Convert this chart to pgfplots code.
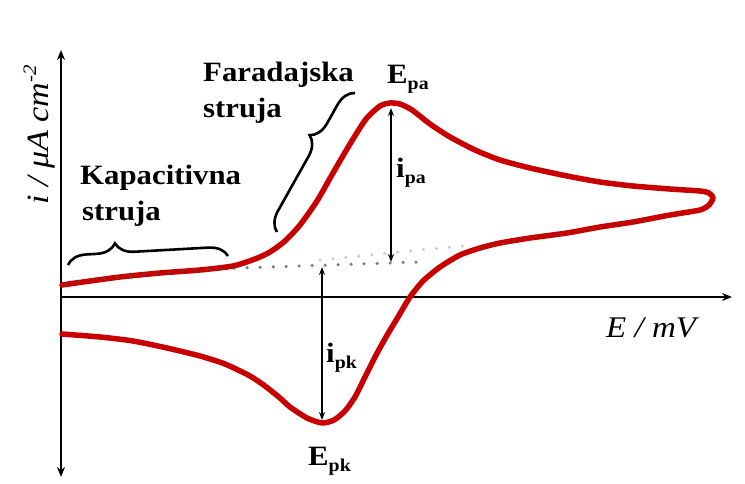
\documentclass[border=0pt]{standalone}
\usepackage{fontspec}
\setmainfont{Liberation Serif}
\newfontfamily\lab[FakeStretch=1.1]{Liberation Serif}
\usepackage{pgfplots}
\pgfplotsset{compat=1.18}
\usetikzlibrary{decorations.pathreplacing,arrows.meta}
\definecolor{cvred}{RGB}{200,0,0}
\definecolor{dotdark}{RGB}{80,80,80}
\definecolor{dotlight}{RGB}{205,205,205}
\newcommand{\lbl}[1]{{\lab\bfseries\fontsize{28}{28}\selectfont #1}}
\newcommand{\sub}[1]{\raisebox{-6pt}{\lab\bfseries\fontsize{18}{18}\selectfont #1}}

% curve in picture units (1 unit = 1 pt)
\pgfplotstableread{
x y
62 198
83 201
120 206
160 210
200 213
233 217
255 224
270 231
285 242
300 258
317 282
333 310
350 339
366 364
380 377
390 380
400 379
412 373
430 359
450 346
475 333
500 323
530 315
567 307
600 301
633 297
670 294
700 292
709 290
713 285
709 278
700 273
670 268
633 261
600 256
567 250
530 245
500 240
480 235
460 228
440 216
423 202
410 186
398 166
386 146
375 126
365 106
355 86
345 72
334 63
322 60
307 65
290 76
280 85
265 97
250 107
225 119
200 127
167 135
133 142
100 146
62 149
}\cvcurve

\begin{document}
\begin{tikzpicture}
\begin{axis}[
    width=745pt, height=483pt, scale only axis,
    xmin=0, xmax=745, ymin=0, ymax=483,
    hide axis, clip=false,
]
% axes
\addplot[black, line width=2.6pt, {Stealth[length=10pt,width=8pt]}-{Stealth[length=10pt,width=8pt]}]
    coordinates {(61,6) (61,433)};
\addplot[black, line width=2.6pt, -{Stealth[length=10pt,width=8pt]}]
    coordinates {(61,186) (732,186)};

% voltammogram
\addplot[cvred, line width=5.5pt, smooth, tension=0.4, line join=round, line cap=round]
    table {\cvcurve};

% base lines
\addplot[dotlight, line width=3.5pt, line cap=round, dash pattern=on 0pt off 13pt]
    coordinates {(320,223) (400,231) (473,238)};
\addplot[dotdark, opacity=0.75, line width=3.5pt, line cap=round, dash pattern=on 0pt off 13pt, smooth]
    coordinates {(66,199) (100,204) (150,209) (200,213) (240,215) (300,217) (360,219) (420,221)};
\addplot[dotdark, opacity=0.6, line width=3pt, line cap=round, dash pattern=on 0pt off 11pt, smooth]
    coordinates {(482,235) (530,245) (567,250) (600,256) (650,263)};

% peak arrows
\addplot[black, line width=1.9pt, {Stealth[length=8pt,width=6pt]}-{Stealth[length=8pt,width=6pt]}]
    coordinates {(391,375) (391,221)};
\addplot[black, line width=1.9pt, {Stealth[length=8pt,width=6pt]}-{Stealth[length=8pt,width=6pt]}]
    coordinates {(322,216) (322,63)};

% braces
\draw[black, line width=2.6pt, decorate, decoration={brace, amplitude=19pt, aspect=0.3}]
    (axis cs:68,218) -- (axis cs:228,227);
\draw[black, line width=2.6pt, decorate, decoration={brace, amplitude=19pt, aspect=0.63}]
    (axis cs:277,251) -- (axis cs:355,390);

% labels
\node[anchor=base west, inner sep=0pt] at (axis cs:203,401) {\lbl{Faradajska}};
\node[anchor=base west, inner sep=0pt] at (axis cs:203,365) {\lbl{struja}};
\node[anchor=base west, inner sep=0pt] at (axis cs:80,298) {\lbl{Kapacitivna}};
\node[anchor=base west, inner sep=0pt] at (axis cs:82,262) {\lbl{struja}};
\node[anchor=base west, inner sep=0pt] at (axis cs:387,399) {\lbl{E}\sub{pa}};
\node[anchor=base west, inner sep=0pt] at (axis cs:396,305) {\lbl{i}\sub{pa}};
\node[anchor=base west, inner sep=0pt] at (axis cs:326,121) {\lbl{i}\sub{pk}};
\node[anchor=base west, inner sep=0pt] at (axis cs:308,18) {\lbl{E}\sub{pk}};
\node[anchor=base west, inner sep=0pt] at (axis cs:606,146)
    {\lab\itshape\fontsize{30}{30}\selectfont E / mV};
\node[anchor=base west, inner sep=0pt, rotate=90] at (axis cs:48,278)
    {\lab\itshape\fontsize{31}{31}\selectfont i / μA cm\raisebox{12pt}{\fontsize{19}{19}\selectfont -2}};
\end{axis}
\pgfresetboundingbox
\useasboundingbox (current axis.south west) rectangle (current axis.north east);
\end{tikzpicture}
\end{document}
